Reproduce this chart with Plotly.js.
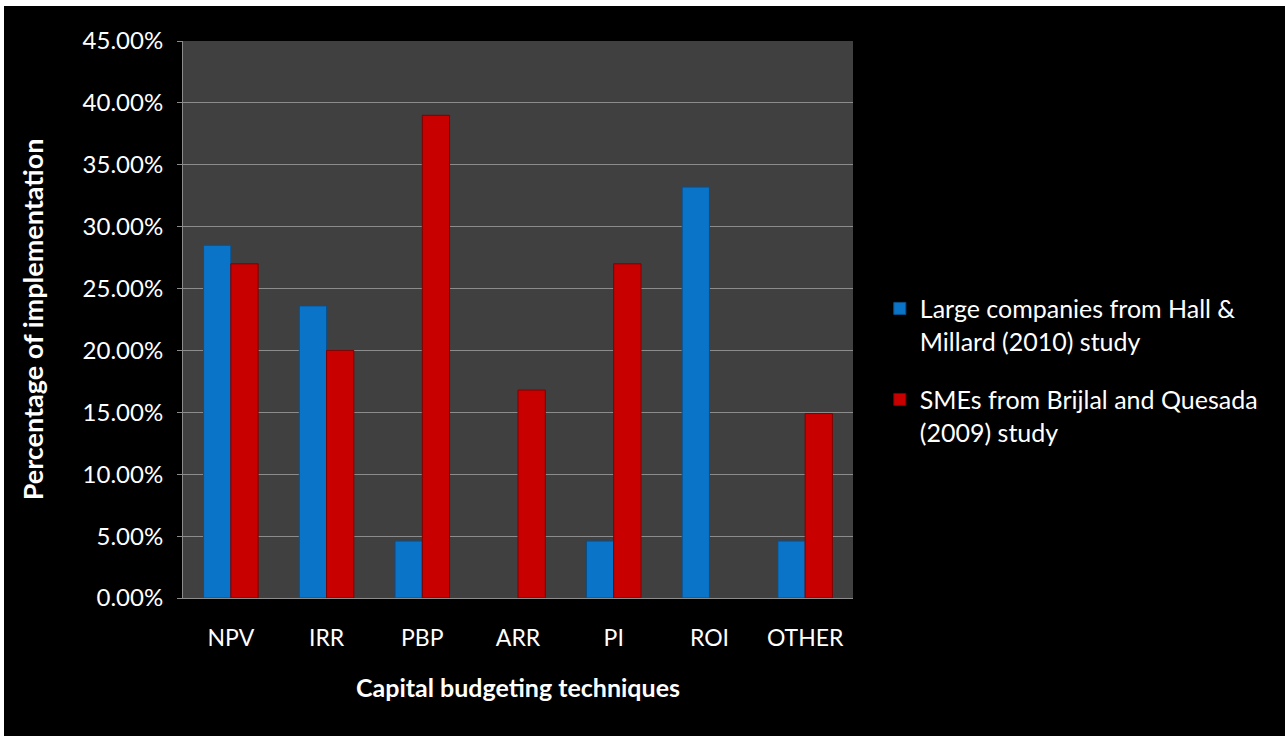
<!DOCTYPE html>
<html>
<head>
<meta charset="utf-8">
<script src="https://cdn.plot.ly/plotly-3.0.1.min.js"></script>
<style>
html, body { margin: 0; padding: 0; background: #ffffff; width: 1285px; height: 736px; overflow: hidden; }
#chart { position: absolute; left: 4px; top: 6px; width: 1281px; height: 730px; }
</style>
</head>
<body>
<div id="chart"></div>
<script>
const categories = ["NPV", "IRR", "PBP", "ARR", "PI", "ROI", "OTHER"];
const seriesNames = ["Large companies from Hall &<br>Millard (2010) study", "SMEs from Brijlal and Quesada<br>(2009) study"];
const largeCompanies = [0.285, 0.236, 0.046, 0, 0.046, 0.332, 0.046];
const smes = [0.270, 0.200, 0.390, 0.168, 0.270, 0, 0.149];
const yTickVals = [0, 0.05, 0.10, 0.15, 0.20, 0.25, 0.30, 0.35, 0.40, 0.45];
const yTickText = ["0.00%", "5.00%", "10.00%", "15.00%", "20.00%", "25.00%", "30.00%", "35.00%", "40.00%", "45.00%"];

const font = "Lato, 'Open Sans', sans-serif";
const lineW = vals => vals.map(v => (v > 0 ? 1 : 0));

const traces = [
  {
    type: "bar", name: seriesNames[0], legendgroup: "a", x: categories, y: largeCompanies,
    marker: { color: "#0a74c8", line: { color: "#0a4f8a", width: lineW(largeCompanies) } }
  },
  {
    type: "bar", name: seriesNames[1], legendgroup: "b", x: categories, y: smes,
    marker: { color: "#c80000", line: { color: "#7e0000", width: lineW(smes) } }
  }
];

const layout = {
  width: 1281, height: 730,
  paper_bgcolor: "#000000",
  plot_bgcolor: "#404040",
  margin: { l: 179, r: 432, t: 35, b: 138 },
  barmode: "group",
  bargap: 0.43,
  bargroupgap: 0,
  showlegend: true,
  font: { family: font, color: "#ffffff", size: 20 },
  xaxis: {
    type: "category",
    showgrid: false,
    showline: true, linecolor: "#8c8c8c", linewidth: 1,
    ticks: "", ticklabelstandoff: 19,
    tickfont: { size: 23, color: "#ffffff", family: font },
    title: { text: "<b>Capital budgeting techniques</b>", font: { size: 25, color: "#ffffff", family: font }, standoff: 29 },
    automargin: false
  },
  yaxis: {
    range: [0, 0.45],
    tickvals: yTickVals, ticktext: yTickText,
    showgrid: true, gridcolor: "#8c8c8c", gridwidth: 1,
    zeroline: false,
    showline: true, linecolor: "#8c8c8c", linewidth: 1,
    ticks: "outside", ticklen: 5, tickcolor: "#8c8c8c",
    ticklabelstandoff: 9,
    tickfont: { size: 24, color: "#ffffff", family: font },
    title: { text: "<b>Percentage of implementation</b>", font: { size: 27, color: "#ffffff", family: font }, standoff: 31 },
    automargin: false
  },
  legend: {
    x: 1.04, xanchor: "left",
    y: 0.409, yanchor: "middle",
    valign: "top",
    bgcolor: "rgba(0,0,0,0)",
    font: { size: 25, color: "#ffffff", family: font },
    tracegroupgap: 23,
    itemwidth: 30
  }
};

Plotly.newPlot("chart", traces, layout, { displayModeBar: false, staticPlot: true });
</script>
</body>
</html>
